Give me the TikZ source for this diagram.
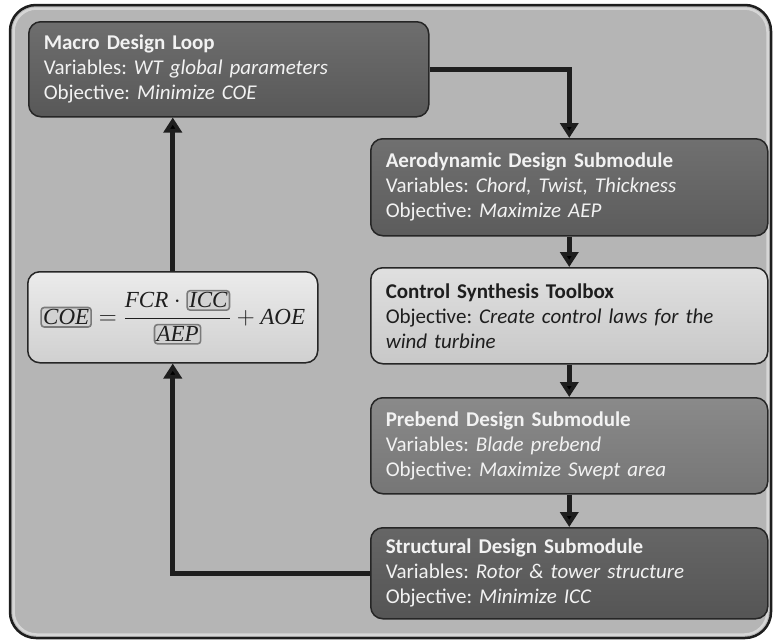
\documentclass[tikz,border=0pt]{standalone}
\usepackage{fontspec}
\setmainfont{Carlito}
\newfontfamily\mathlet{Liberation Serif}
\frenchspacing
\usetikzlibrary{arrows.meta}
\definecolor{framefill}{HTML}{B5B5B5}
\definecolor{frameedge}{HTML}{1E1E1E}
\definecolor{framerim}{HTML}{D6D6D6}
\definecolor{edgec}{HTML}{262626}
\definecolor{arrowc}{HTML}{1E1E1E}
\definecolor{lighttext}{HTML}{F2F2F2}
\definecolor{darktext}{HTML}{1E1E1E}
\definecolor{mtop}{HTML}{6E6E6E}\definecolor{mbot}{HTML}{585858}
\definecolor{atop}{HTML}{707070}\definecolor{abot}{HTML}{5C5C5C}
\definecolor{ctop}{HTML}{E0E0E0}\definecolor{cbot}{HTML}{C8C8C8}
\definecolor{ptop}{HTML}{8A8A8A}\definecolor{pbot}{HTML}{767676}
\definecolor{stop}{HTML}{666666}\definecolor{sbot}{HTML}{555555}
\definecolor{qtop}{HTML}{EBEBEB}\definecolor{qbot}{HTML}{D0D0D0}
\definecolor{rboxedge}{HTML}{7A7A7A}
\definecolor{rboxfill}{HTML}{D2D2D2}
\newcommand\ml[1]{\hbox{\mathlet\itshape #1}}
\newcommand\rbx[1]{\tikz[baseline=(rb.base)]\node[draw=rboxedge, line width=1.6pt, rounded corners=3pt, fill=rboxfill, minimum width=0pt, minimum height=0pt, anchor=center, inner xsep=2pt, inner ysep=2pt] (rb) {\ml{#1}};}
\begin{document}
\begin{tikzpicture}[x=1pt,y=-1pt,
  mbox/.style={draw=edgec, line width=1.5pt, rounded corners=12pt, anchor=north west,
    inner xsep=15pt, inner ysep=0pt, align=left,
    font=\fontsize{21}{25}\selectfont},
  dark/.style={text=lighttext},
  arr/.style={line width=5pt, draw=arrowc, -{Triangle[length=15pt,width=18pt]}}]
\useasboundingbox (0,0) rectangle (773,643);
% outer frame
\draw[fill=framefill, draw=frameedge, line width=2.5pt, rounded corners=26pt] (10,5) rectangle (771,638);
\draw[draw=framerim, line width=2.5pt, rounded corners=23pt] (13.5,8.5) rectangle (767.5,634.5);
% boxes
\node[mbox, dark, top color=mtop, bottom color=mbot, minimum width=400pt, text width=370pt, minimum height=95pt] (macro) at (28,21)
 {\textbf{Macro Design Loop}\\ Variables: \textit{WT global parameters}\\ Objective: \textit{Minimize COE}};
\node[mbox, dark, top color=atop, bottom color=abot, minimum width=397pt, text width=367pt, minimum height=97pt] (aero) at (370,138)
 {\textbf{Aerodynamic Design Submodule}\\ Variables: \textit{Chord, Twist, Thickness}\\ Objective: \textit{Maximize AEP}};
\node[mbox, text=darktext, top color=ctop, bottom color=cbot, minimum width=397pt, text width=367pt, minimum height=96pt] (ctrl) at (370,267)
 {\textbf{Control Synthesis Toolbox}\\ Objective: \textit{Create control laws for the}\\ \textit{wind turbine}};
\node[mbox, dark, top color=ptop, bottom color=pbot, minimum width=397pt, text width=367pt, minimum height=96pt] (preb) at (370,397)
 {\textbf{Prebend Design Submodule}\\ Variables: \textit{Blade prebend}\\ Objective: \textit{Maximize Swept area}};
\node[mbox, dark, top color=stop, bottom color=sbot, minimum width=397pt, text width=367pt, minimum height=91pt] (struct) at (370,527)
 {\textbf{Structural Design Submodule}\\ Variables: \textit{Rotor \& tower structure}\\ Objective: \textit{Minimize ICC}};
\node[mbox, text=darktext, top color=qtop, bottom color=qbot, minimum width=290pt, minimum height=91pt, inner xsep=4pt, align=center, font=\fontsize{23}{27}\selectfont] (coe) at (27,271)
 {$\rbx{COE} = \displaystyle\frac{\ml{FCR}\cdot\rbx{ICC}}{\rbx{AEP}} + \ml{AOE}$};
% connectors
\draw[arr] (macro.east) -| (aero.north);
\draw[arr] (aero.south) -- (ctrl.north);
\draw[arr] (ctrl.south) -- (preb.north);
\draw[arr] (preb.south) -- (struct.north);
\draw[arr] (struct.west) -| (coe.south);
\draw[arr] (coe.north) -- (coe.north |- macro.south);
\end{tikzpicture}
\end{document}
